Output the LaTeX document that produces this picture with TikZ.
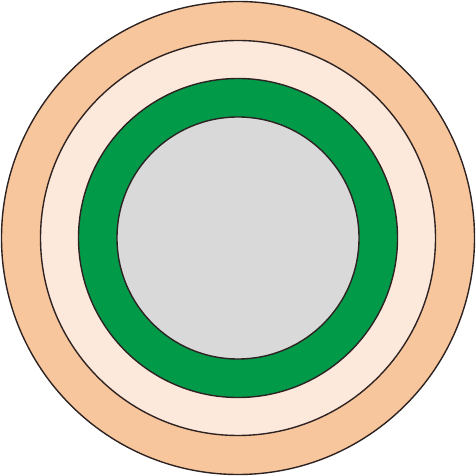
\documentclass[tikz,border=0pt]{standalone}
\definecolor{peach}{HTML}{F8C69C}
\definecolor{lightpeach}{HTML}{FDE9DB}
\definecolor{ringgreen}{HTML}{009A49}
\definecolor{coregray}{HTML}{D9D9D9}
\definecolor{edge}{HTML}{2E2323}
\begin{document}
\begin{tikzpicture}[x=1pt,y=1pt,ring/.style={draw=edge,line width=1.4pt}]
\useasboundingbox (0,0) rectangle (476,476);
\coordinate (c) at (238,238);
\path[ring,fill=peach] (c) circle[radius=236.5];
\path[ring,fill=lightpeach] (c) circle[radius=197.5];
\path[ring,fill=ringgreen] (c) circle[radius=159.5];
\path[ring,fill=coregray] (c) circle[radius=121];
\end{tikzpicture}
\end{document}
